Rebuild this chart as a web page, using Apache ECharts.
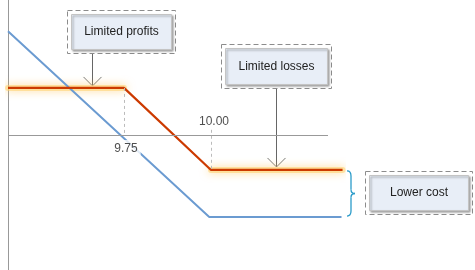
<!DOCTYPE html>
<html><head><meta charset="utf-8">
<script src="https://cdn.jsdelivr.net/npm/echarts@6/dist/echarts.min.js"></script>
<style>html,body{margin:0;padding:0;background:#fff}#c{width:475px;height:270px}</style>
</head><body><div id="c"></div>
<script>
// axis extents
const xRange = [9.4167, 10.3793];
const yRange = [-0.39, 0.39];
const zeroLineEnd = 10.3362;
// strikes
const strikes = [9.75, 10.00];
const strikeLabels = ['9.75', '10.00'];
// bear-call spread (orange) payoff
const spreadX = [9.4167, 9.75, 10.00, 10.378];
const spreadY = [0.136, 0.136, -0.101, -0.101];
// naked call (blue) payoff
const callX = [9.4167, 9.995, 10.375];
const callY = [0.300, -0.237, -0.237];
// annotations
const notes = ['Limited profits', 'Limited losses', 'Lower cost'];
const noteAnchorX = [9.658, 10.187];

const ORANGE = '#cc3a00', BLUE = '#6b9bd1';
const zip = (a, b) => a.map((v, i) => [v, b[i]]);
const spread = zip(spreadX, spreadY);
const glowLine = { color: 'rgba(255,210,110,0.55)', width: 6, cap: 'round',
  shadowColor: 'rgba(255,195,80,1)', shadowBlur: 9 };
const flat = (d) => ({ type: 'line', data: d, symbol: 'none', clip: false, z: 1, silent: true,
  lineStyle: glowLine });

const chart = echarts.init(document.getElementById('c'), null, { renderer: 'canvas' });
chart.setOption({
  animation: false,
  grid: { left: 8, right: 132, top: 0, bottom: 0, containLabel: false },
  xAxis: { type: 'value', min: xRange[0], max: xRange[1],
    axisLine: { show: false }, axisTick: { show: false }, axisLabel: { show: false }, splitLine: { show: false } },
  yAxis: { type: 'value', min: yRange[0], max: yRange[1],
    axisLine: { show: true, onZero: false, lineStyle: { color: '#999', width: 1 } },
    axisTick: { show: false }, axisLabel: { show: false }, splitLine: { show: false } },
  series: [
    flat([spread[0], spread[1]]),
    flat([spread[2], spread[3]]),
    { type: 'line', data: zip(callX, callY), symbol: 'none', clip: false, z: 2,
      lineStyle: { color: BLUE, width: 2 },
      markLine: { silent: true, symbol: 'none', label: { show: false },
        lineStyle: { color: '#999', type: 'solid', width: 1 },
        data: [[{ coord: [xRange[0], 0] }, { coord: [zeroLineEnd, 0] }]] } },
    { type: 'line', data: spread, symbol: 'none', clip: false, z: 3,
      lineStyle: { color: ORANGE, width: 2.2 },
      markLine: { silent: true, symbol: 'none', label: { show: false },
        lineStyle: { color: '#bbb', type: [3, 3], width: 1 },
        data: [
          [{ coord: [strikes[0], spreadY[1]] }, { coord: [strikes[0], 0] }],
          [{ coord: [strikes[1], 0.015] }, { coord: [strikes[1], spreadY[2]] }]
        ] } },
    { type: 'scatter', z: 6, symbolSize: 1, itemStyle: { color: 'rgba(0,0,0,0)' },
      data: [
        { value: [strikes[0], 0], label: { offset: [2, 14], backgroundColor: '#fff', padding: [3, 3] } },
        { value: [strikes[1], 0], label: { offset: [3, -13] } }
      ],
      label: { show: true, position: 'inside', color: '#222', fontSize: 12,
        fontFamily: 'Liberation Sans, Arial, sans-serif',
        formatter: p => strikeLabels[p.dataIndex] } }
  ]
});

const px = (x, y) => chart.convertToPixel({ gridIndex: 0 }, [x, y]);
function box(x, y, w, h, text) {
  return { type: 'group', z: 10, children: [
    { type: 'rect', shape: { x: x, y: y, width: w, height: h },
      style: { fill: '#fff', stroke: '#8c8c8c', lineWidth: 1, lineDash: [5, 3] } },
    { type: 'rect', shape: { x: x + 4, y: y + 4, width: w - 8, height: h - 8 },
      style: { fill: '#e8eef7', stroke: '#c4c4c4', lineWidth: 1,
        shadowColor: 'rgba(0,0,0,0.35)', shadowBlur: 2, shadowOffsetX: 1.5, shadowOffsetY: 1.5 } },
    { type: 'text', x: x + w / 2, y: y + h / 2,
      style: { text: text, fill: '#222', font: '12px "Liberation Sans", Arial, sans-serif',
        align: 'center', verticalAlign: 'middle' } }
  ] };
}
function arrow(x, y0, y1) {
  return { type: 'group', z: 9, children: [
    { type: 'line', shape: { x1: x, y1: y0, x2: x, y2: y1 }, style: { stroke: '#666', lineWidth: 1 } },
    { type: 'polyline', shape: { points: [[x - 9, y1 - 9], [x, y1], [x + 9, y1 - 9]] },
      style: { stroke: '#777', lineWidth: 1, fill: null } }
  ] };
}
function brace(bx, t, b) {
  const m = (t + b) / 2, st = { stroke: '#2a9bc9', lineWidth: 1.3, fill: null };
  const q = (x1, y1, cx, cy, x2, y2) => ({ type: 'bezierCurve',
    shape: { x1: x1, y1: y1, cpx1: cx, cpy1: cy, x2: x2, y2: y2 }, style: st });
  const l = (x1, y1, x2, y2) => ({ type: 'line', shape: { x1: x1, y1: y1, x2: x2, y2: y2 }, style: st });
  return { type: 'group', z: 9, children: [
    q(bx, t + 1, bx + 4, t + 1, bx + 4, t + 6),
    l(bx + 4, t + 6, bx + 4, m - 4),
    q(bx + 4, m - 4, bx + 4, m, bx + 8, m),
    q(bx + 8, m, bx + 4, m, bx + 4, m + 4),
    l(bx + 4, m + 4, bx + 4, b - 6),
    q(bx + 4, b - 6, bx + 4, b - 1, bx, b - 1)
  ] };
}
const a1 = px(noteAnchorX[0], spreadY[0]);
const a2 = px(noteAnchorX[1], spreadY[3]);
const bTop = px(spreadX[3], spreadY[3]);
const bBot = px(callX[2], callY[2]);
chart.setOption({ graphic: [
  arrow(Math.round(a1[0]) + 0.5, 53, a1[1] - 2),
  arrow(Math.round(a2[0]) + 0.5, 88, a2[1] - 3),
  box(67.5, 10.5, 108, 43, notes[0]),
  box(221.5, 44.5, 110, 44, notes[1]),
  box(365.5, 171.5, 107, 43, notes[2]),
  brace(347, bTop[1], bBot[1])
] });
</script>
</body></html>
